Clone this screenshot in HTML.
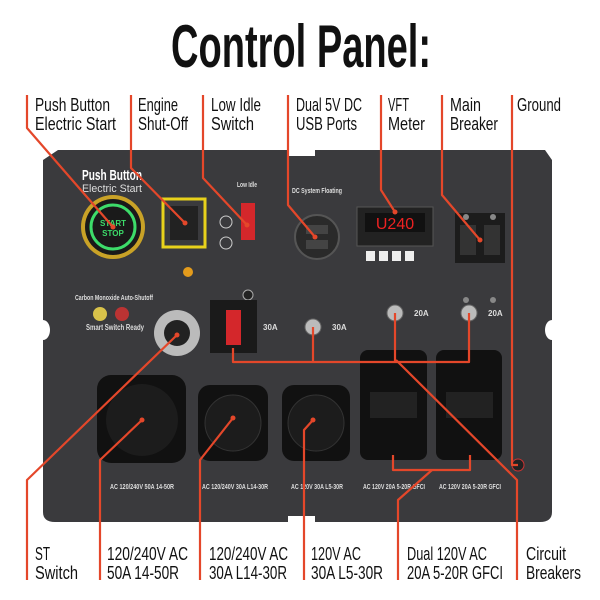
<!DOCTYPE html>
<html><head><meta charset="utf-8"><style>
html,body{margin:0;padding:0;background:#fff;}
svg{display:block;}
text{font-family:"Liberation Sans Narrow","Liberation Sans",sans-serif;}
</style></head><body>
<svg width="600" height="600" viewBox="0 0 600 600" xmlns="http://www.w3.org/2000/svg">
<rect width="600" height="600" fill="#fff"/>
<text x="301" y="67" font-size="60" font-weight="bold" text-anchor="middle" textLength="260" lengthAdjust="spacingAndGlyphs" fill="#111">Control Panel:</text>

<!-- panel -->
<path d="M58 150 H287 V156 H315 V150 H545 L552 160 V320 A7 10 0 0 0 552 340 V512 Q552 522 540 522 H315 V516 H288 V522 H55 Q43 522 43 512 V340 A7 10 0 0 0 43 320 V160 Z" fill="#3a3a3d"/>
<g font-size="18" fill="#111" lengthAdjust="spacingAndGlyphs">
<text x="35" y="111" textLength="75" lengthAdjust="spacingAndGlyphs">Push Button</text>
<text x="35" y="130" textLength="81" lengthAdjust="spacingAndGlyphs">Electric Start</text>
<text x="138" y="111" textLength="40" lengthAdjust="spacingAndGlyphs">Engine</text>
<text x="138" y="130" textLength="50" lengthAdjust="spacingAndGlyphs">Shut-Off</text>
<text x="211" y="111" textLength="50" lengthAdjust="spacingAndGlyphs">Low Idle</text>
<text x="211" y="130" textLength="43" lengthAdjust="spacingAndGlyphs">Switch</text>
<text x="296" y="111" textLength="66" lengthAdjust="spacingAndGlyphs">Dual 5V DC</text>
<text x="296" y="130" textLength="61" lengthAdjust="spacingAndGlyphs">USB Ports</text>
<text x="388" y="111" textLength="21" lengthAdjust="spacingAndGlyphs">VFT</text>
<text x="388" y="130" textLength="37" lengthAdjust="spacingAndGlyphs">Meter</text>
<text x="450" y="111" textLength="31" lengthAdjust="spacingAndGlyphs">Main</text>
<text x="450" y="130" textLength="48" lengthAdjust="spacingAndGlyphs">Breaker</text>
<text x="517" y="111" textLength="44" lengthAdjust="spacingAndGlyphs">Ground</text>
<text x="35" y="560" textLength="15" lengthAdjust="spacingAndGlyphs">ST</text>
<text x="35" y="579" textLength="43" lengthAdjust="spacingAndGlyphs">Switch</text>
<text x="107" y="560" textLength="81" lengthAdjust="spacingAndGlyphs">120/240V AC</text>
<text x="107" y="579" textLength="72" lengthAdjust="spacingAndGlyphs">50A 14-50R</text>
<text x="209" y="560" textLength="79" lengthAdjust="spacingAndGlyphs">120/240V AC</text>
<text x="209" y="579" textLength="78" lengthAdjust="spacingAndGlyphs">30A L14-30R</text>
<text x="311" y="560" textLength="50" lengthAdjust="spacingAndGlyphs">120V AC</text>
<text x="311" y="579" textLength="72" lengthAdjust="spacingAndGlyphs">30A L5-30R</text>
<text x="407" y="560" textLength="80" lengthAdjust="spacingAndGlyphs">Dual 120V AC</text>
<text x="407" y="579" textLength="96" lengthAdjust="spacingAndGlyphs">20A 5-20R GFCI</text>
<text x="526" y="560" textLength="40" lengthAdjust="spacingAndGlyphs">Circuit</text>
<text x="526" y="579" textLength="55" lengthAdjust="spacingAndGlyphs">Breakers</text>
</g>

<g>
<text x="82" y="180" font-size="15" font-weight="bold" fill="#fff" textLength="60" lengthAdjust="spacingAndGlyphs">Push Button</text>
<text x="82" y="192" font-size="11" fill="#ddd" textLength="60" lengthAdjust="spacingAndGlyphs">Electric Start</text>
<circle cx="113" cy="227" r="32" fill="#c9a227"/>
<circle cx="113" cy="227" r="28" fill="#1a1a1a"/>
<circle cx="113" cy="227" r="22" fill="none" stroke="#3ddc6a" stroke-width="3"/>
<text x="113" y="226" font-size="8" fill="#3ddc6a" text-anchor="middle" font-weight="bold">START</text>
<text x="113" y="236" font-size="8" fill="#3ddc6a" text-anchor="middle" font-weight="bold">STOP</text>
<text x="75" y="300" font-size="7" fill="#ddd" font-weight="bold" textLength="78" lengthAdjust="spacingAndGlyphs">Carbon Monoxide Auto-Shutoff</text>
<circle cx="100" cy="314" r="7" fill="#d8c24a"/><circle cx="122" cy="314" r="7" fill="#b33"/>
<text x="86" y="330" font-size="8" fill="#ddd" font-weight="bold" textLength="58" lengthAdjust="spacingAndGlyphs">Smart Switch Ready</text>
<rect x="163" y="199" width="42" height="48" fill="none" stroke="#e8d11b" stroke-width="3"/>
<rect x="170" y="206" width="28" height="34" fill="#222"/>
<text x="237" y="187" font-size="7" fill="#ddd" font-weight="bold" textLength="20" lengthAdjust="spacingAndGlyphs">Low Idle</text>
<rect x="241" y="203" width="14" height="37" fill="#d4272b"/>
<circle cx="226" cy="222" r="6" fill="none" stroke="#ccc"/>
<circle cx="226" cy="243" r="6" fill="none" stroke="#ccc"/>
<circle cx="188" cy="272" r="5" fill="#e39b1c"/>
<circle cx="248" cy="295" r="5" fill="#222" stroke="#aaa"/>
<text x="292" y="193" font-size="7" fill="#ddd" font-weight="bold" textLength="50" lengthAdjust="spacingAndGlyphs">DC System Floating</text>
<circle cx="317" cy="237" r="22" fill="#2a2a2a" stroke="#555" stroke-width="2"/>
<rect x="306" y="225" width="22" height="9" fill="#444"/><rect x="306" y="240" width="22" height="9" fill="#444"/>
<rect x="357" y="207" width="76" height="39" fill="#222" stroke="#555"/>
<rect x="365" y="213" width="60" height="19" fill="#111"/>
<text x="395" y="229" font-size="16" fill="#e22" text-anchor="middle" font-family="Liberation Mono, monospace">U240</text>
<rect x="366" y="251" width="9" height="10" fill="#eee"/><rect x="379" y="251" width="9" height="10" fill="#eee"/><rect x="392" y="251" width="9" height="10" fill="#eee"/><rect x="405" y="251" width="9" height="10" fill="#eee"/>
<rect x="455" y="213" width="50" height="50" fill="#1c1c1c"/>
<rect x="460" y="225" width="16" height="30" fill="#333"/><rect x="484" y="225" width="16" height="30" fill="#333"/>
<circle cx="466" cy="217" r="3" fill="#888"/><circle cx="493" cy="217" r="3" fill="#888"/>
<circle cx="466" cy="300" r="3" fill="#888"/><circle cx="493" cy="300" r="3" fill="#888"/>
<rect x="210" y="300" width="47" height="53" fill="#1a1a1a"/>
<rect x="226" y="310" width="15" height="35" fill="#d4272b"/>
<text x="263" y="330" font-size="8" fill="#ddd" font-weight="bold">30A</text>
<circle cx="177" cy="333" r="23" fill="#bbb"/><circle cx="177" cy="333" r="13" fill="#222"/>
<circle cx="313" cy="327" r="8" fill="#bbb" stroke="#666"/><text x="332" y="330" font-size="8" fill="#ddd" font-weight="bold">30A</text>
<circle cx="395" cy="313" r="8" fill="#bbb" stroke="#666"/><text x="414" y="316" font-size="8" fill="#ddd" font-weight="bold">20A</text>
<circle cx="469" cy="313" r="8" fill="#bbb" stroke="#666"/><text x="488" y="316" font-size="8" fill="#ddd" font-weight="bold">20A</text>
<rect x="97" y="375" width="89" height="88" rx="14" fill="#111"/>
<circle cx="142" cy="420" r="36" fill="#1c1c1c"/>
<rect x="198" y="385" width="70" height="76" rx="12" fill="#111"/>
<circle cx="233" cy="423" r="28" fill="#1c1c1c" stroke="#333"/>
<rect x="282" y="385" width="68" height="76" rx="12" fill="#111"/>
<circle cx="316" cy="423" r="28" fill="#1c1c1c" stroke="#333"/>
<rect x="360" y="350" width="67" height="110" rx="8" fill="#111"/>
<rect x="436" y="350" width="66" height="110" rx="8" fill="#111"/>
<rect x="370" y="392" width="47" height="26" fill="#222"/><rect x="446" y="392" width="47" height="26" fill="#222"/>
<g font-size="7" fill="#ddd" font-weight="bold" text-anchor="middle">
<text x="142" y="489" textLength="64" lengthAdjust="spacingAndGlyphs">AC 120/240V 50A 14-50R</text>
<text x="235" y="489" textLength="66" lengthAdjust="spacingAndGlyphs">AC 120/240V 30A L14-30R</text>
<text x="317" y="489" textLength="52" lengthAdjust="spacingAndGlyphs">AC 120V 30A L5-30R</text>
<text x="394" y="489" textLength="62" lengthAdjust="spacingAndGlyphs">AC 120V 20A 5-20R GFCI</text>
<text x="470" y="489" textLength="62" lengthAdjust="spacingAndGlyphs">AC 120V 20A 5-20R GFCI</text>
</g>
<circle cx="518" cy="465" r="6" fill="#222" stroke="#c33"/>
</g>

<g stroke="#e4472a" stroke-width="2.2" fill="none" stroke-linejoin="round">
<polyline points="27,95 27,128 113,227"/>
<polyline points="131,95 131,168 185,223"/>
<polyline points="203,95 203,178 247,225"/>
<polyline points="288,95 288,205 315,237"/>
<polyline points="381,95 381,190 395,212"/>
<polyline points="442,95 442,195 480,240"/>
<polyline points="512,95 512,465 518,465"/>
<polyline points="233,348 233,362 469,362 469,313"/>
<polyline points="313,327 313,362"/>
<polyline points="395,313 395,362"/>
<polyline points="396,360 517,480 517,580"/>
<polyline points="177,335 27,480 27,580"/>
<polyline points="142,420 100,460 100,580"/>
<polyline points="233,418 200,460 200,580"/>
<polyline points="313,420 304,430 304,580"/>
<polyline points="393,455 393,470 470,470 470,455"/>
<polyline points="432,470 398,500 398,580"/>
</g>
<g fill="#e4472a">
<circle cx="113" cy="227" r="2.5"/><circle cx="185" cy="223" r="2.5"/><circle cx="247" cy="225" r="2.5"/>
<circle cx="315" cy="237" r="2.5"/><circle cx="395" cy="212" r="2.5"/><circle cx="480" cy="240" r="2.5"/>
<circle cx="177" cy="335" r="2.5"/><circle cx="142" cy="420" r="2.5"/><circle cx="233" cy="418" r="2.5"/><circle cx="313" cy="420" r="2.5"/>
</g>
</svg>
</body></html>
